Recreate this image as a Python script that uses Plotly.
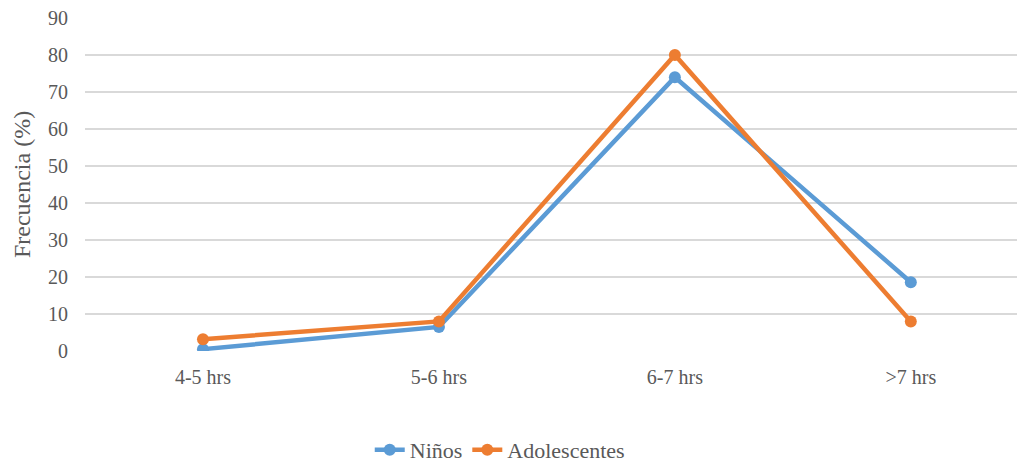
import plotly.graph_objects as go

categories = ["4-5 hrs", "5-6 hrs", "6-7 hrs", ">7 hrs"]
ninos = [0.5, 6.5, 74, 18.6]
adolescentes = [3.2, 8, 80, 8]
y_ticks = [0, 10, 20, 30, 40, 50, 60, 70, 80, 90]

fig = go.Figure()
fig.add_trace(go.Scatter(x=[0, 1, 2, 3], y=ninos, name="Niños", mode="lines+markers",
                         line=dict(color="#5B9BD5", width=4.5), marker=dict(size=12, color="#5B9BD5")))
fig.add_trace(go.Scatter(x=[0, 1, 2, 3], y=adolescentes, name="Adolescentes", mode="lines+markers",
                         line=dict(color="#ED7D31", width=4.5), marker=dict(size=12, color="#ED7D31")))

fig.update_layout(
    width=1017, height=465,
    margin=dict(l=85, r=0, t=18, b=114, autoexpand=False),
    plot_bgcolor="white", paper_bgcolor="white",
    font=dict(family="Liberation Serif", size=20, color="#595959"),
    showlegend=True,
    legend=dict(orientation="h", x=0.445, xanchor="center", y=-0.297, yanchor="middle",
                font=dict(size=22, color="#595959"), tracegroupgap=0),
    xaxis=dict(tickmode="array", tickvals=[0, 1, 2, 3], ticktext=categories,
               range=[-0.5, 3.45], showgrid=False, zeroline=False, showline=False,
               ticks="", ticklabelstandoff=12, tickfont=dict(size=20), automargin=False),
    yaxis=dict(range=[0, 90], tickvals=y_ticks, showgrid=True, gridcolor="#D9D9D9", gridwidth=1.5,
               zeroline=False, showline=False, ticks="", ticklabelstandoff=16,
               title=dict(text="Frecuencia (%)", font=dict(size=24, color="#595959"), standoff=10),
               tickfont=dict(size=20), automargin=False),
)
fig.write_html("out.html", config={"displayModeBar": False},
               post_script="document.body.style.margin='0';document.body.style.overflow='hidden';")
